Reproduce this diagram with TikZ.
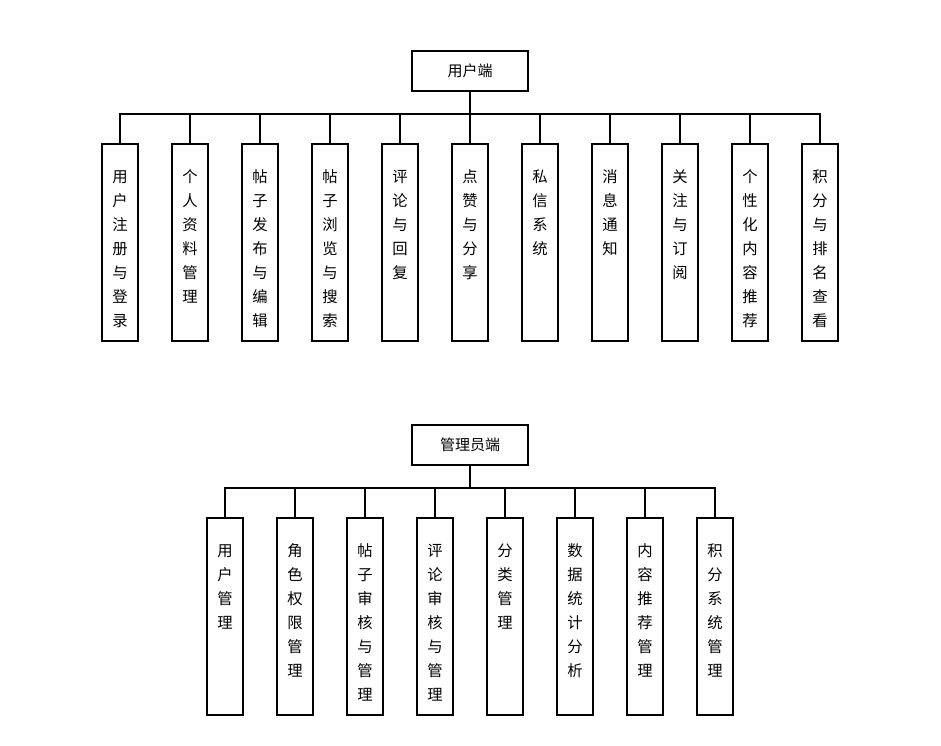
\documentclass[tikz,border=0pt]{standalone}
\usepackage{fontspec}
\newfontfamily\cjk{Noto Sans CJK SC}
\begin{document}
\begin{tikzpicture}[x=0.75pt,y=-0.75pt,
  every path/.style={line width=1.5pt},
  rootbox/.style={draw, line width=1.5pt, minimum width=87pt, minimum height=30pt, inner sep=0pt, font=\cjk\fontsize{11.25pt}{13pt}\selectfont},
  leafbox/.style={draw, line width=1.5pt, minimum width=27pt, minimum height=147.75pt, inner sep=0pt},
  vt/.style={anchor=base, inner sep=0pt, font=\cjk\fontsize{11.5pt}{18pt}\selectfont},
  conn/.style={draw, line width=1.5pt}
]
\useasboundingbox (0,0) rectangle (941,745);
\newcommand{\vlab}[2]{\node[vt] (#1t) at ([yshift=-29.4pt]#1.north) {\parbox[t]{20pt}{\centering #2}};}

% ---------- user side ----------
\node[rootbox] (ru) at (470,71) {用户端};
\coordinate (bu) at (470,114);
\draw[conn] (ru.south) -- (bu);
\foreach \i/\x in {1/120,2/190,3/260,4/330,5/400,6/470,7/540,8/610,9/680,10/750,11/820}{
  \node[leafbox] (u\i) at (\x,242.7) {};
  \draw[conn] (bu) -| (u\i.north);
}
\vlab{u1}{用\\户\\注\\册\\与\\登\\录}
\vlab{u2}{个\\人\\资\\料\\管\\理}
\vlab{u3}{帖\\子\\发\\布\\与\\编\\辑}
\vlab{u4}{帖\\子\\浏\\览\\与\\搜\\索}
\vlab{u5}{评\\论\\与\\回\\复}
\vlab{u6}{点\\赞\\与\\分\\享}
\vlab{u7}{私\\信\\系\\统}
\vlab{u8}{消\\息\\通\\知}
\vlab{u9}{关\\注\\与\\订\\阅}
\vlab{u10}{个\\性\\化\\内\\容\\推\\荐}
\vlab{u11}{积\\分\\与\\排\\名\\查\\看}

% ---------- admin side ----------
\node[rootbox] (ra) at (470,445) {管理员端};
\coordinate (ba) at (470,488);
\draw[conn] (ra.south) -- (ba);
\foreach \i/\x in {1/225,2/295,3/365,4/435,5/505,6/575,7/645,8/715}{
  \node[leafbox] (a\i) at (\x,616.5) {};
  \draw[conn] (ba) -| (a\i.north);
}
\vlab{a1}{用\\户\\管\\理}
\vlab{a2}{角\\色\\权\\限\\管\\理}
\vlab{a3}{帖\\子\\审\\核\\与\\管\\理}
\vlab{a4}{评\\论\\审\\核\\与\\管\\理}
\vlab{a5}{分\\类\\管\\理}
\vlab{a6}{数\\据\\统\\计\\分\\析}
\vlab{a7}{内\\容\\推\\荐\\管\\理}
\vlab{a8}{积\\分\\系\\统\\管\\理}
\end{tikzpicture}
\end{document}
